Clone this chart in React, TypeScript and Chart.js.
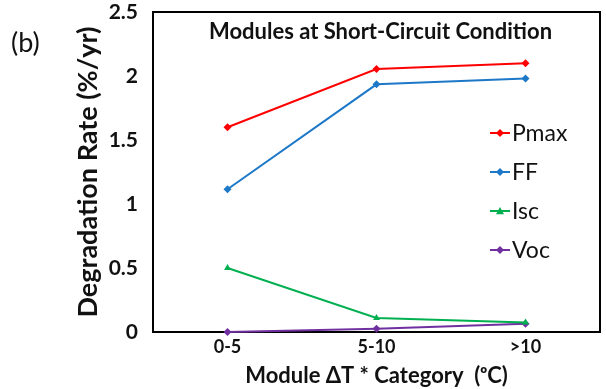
import React, { useEffect, useRef } from "react";
import { Chart, registerables } from "chart.js";

Chart.register(...registerables);

const categories = ["0-5", "5-10", ">10"];
const pmax = [1.6, 2.055, 2.1];
const ff = [1.115, 1.935, 1.98];
const isc = [0.5, 0.11, 0.075];
const voc = [0.0, 0.025, 0.065];
const yTicks = [0, 0.5, 1, 1.5, 2, 2.5];
const seriesNames = ["Pmax", "FF", "Isc", "Voc"];
const seriesColors = ["#FF0000", "#1E78C8", "#00B050", "#7030A0"];
const seriesMarkers = ["rectRot", "rectRot", "triangle", "rectRot"];
const chartTitle = "Modules at Short-Circuit Condition";
const panelLabel = "(b)";
const xTitle = "Module ΔT * Category  (ᵒC)";
const yTitle = "Degradation Rate (%/yr)";

const FONT = "Lato, 'Open Sans', sans-serif";
const TEXT = "#111111";

function drawMarker(ctx: CanvasRenderingContext2D, kind: string, x: number, y: number, r: number, color: string) {
  ctx.fillStyle = color;
  ctx.beginPath();
  if (kind === "triangle") {
    ctx.moveTo(x, y - r);
    ctx.lineTo(x + r, y + r * 0.8);
    ctx.lineTo(x - r, y + r * 0.8);
  } else {
    ctx.moveTo(x, y - r);
    ctx.lineTo(x + r, y);
    ctx.lineTo(x, y + r);
    ctx.lineTo(x - r, y);
  }
  ctx.closePath();
  ctx.fill();
}

const overlayPlugin = {
  id: "overlayPlugin",
  beforeDatasetsDraw(chart: any) {
    const { ctx, chartArea: a } = chart;
    ctx.save();
    ctx.strokeStyle = "#000";
    ctx.lineWidth = 2;
    ctx.strokeRect(a.left, a.top, a.right - a.left, a.bottom - a.top);
    ctx.restore();
  },
  afterDraw(chart: any) {
    const { ctx, chartArea: a } = chart;
    ctx.save();
    ctx.fillStyle = TEXT;
    ctx.textBaseline = "middle";
    ctx.textAlign = "center";
    ctx.font = `bold 22px ${FONT}`;
    ctx.fillText(chartTitle, (a.left + a.right) / 2 + 4, a.top + 20);
    ctx.textAlign = "left";
    ctx.font = `27px ${FONT}`;
    ctx.fillText(panelLabel, 11, 43);
    // legend
    const lx = a.right - 110;
    chart.data.datasets.forEach((ds: any, i: number) => {
      const y = a.top + 121 + i * 39;
      ctx.strokeStyle = ds.borderColor;
      ctx.lineWidth = 2;
      ctx.beginPath();
      ctx.moveTo(lx, y);
      ctx.lineTo(lx + 20, y);
      ctx.stroke();
      drawMarker(ctx, seriesMarkers[i], lx + 10, y, 4, ds.borderColor);
      ctx.fillStyle = TEXT;
      ctx.font = `23px ${FONT}`;
      ctx.textAlign = "left";
      ctx.fillText(ds.label, lx + 22, y + 1);
    });
    ctx.restore();
  },
};

export default function App() {
  const ref = useRef<HTMLCanvasElement | null>(null);
  useEffect(() => {
    if (!ref.current) return;
    const values = [pmax, ff, isc, voc];
    const chart = new Chart(ref.current, {
      type: "line",
      data: {
        labels: categories,
        datasets: seriesNames.map((name, i) => ({
          label: name,
          data: values[i],
          borderColor: seriesColors[i],
          backgroundColor: seriesColors[i],
          borderWidth: 2,
          pointStyle: seriesMarkers[i] as any,
          pointRadius: 4,
          pointBorderWidth: 0,
          tension: 0,
          fill: false,
          clip: false as any,
        })),
      },
      options: {
        animation: false,
        responsive: false,
        maintainAspectRatio: false,
        layout: { padding: { top: 12, right: 6, left: 0, bottom: 0 } },
        plugins: {
          legend: { display: false },
          tooltip: { enabled: false },
          title: { display: false },
        },
        scales: {
          x: {
            type: "category",
            offset: true,
            grid: { display: false, drawTicks: false },
            border: { display: false },
            ticks: {
              font: { family: FONT, size: 18, weight: "bold" },
              color: TEXT,
              padding: 4,
            },
            title: {
              display: true,
              text: xTitle,
              font: { family: FONT, size: 22, weight: "bold" },
              color: TEXT,
              padding: { top: 0, bottom: 0 },
            },
            afterFit(scale: any) {
              scale.height = 57;
              scale.paddingLeft = 0;
              scale.paddingRight = 0;
            },
          },
          y: {
            min: 0,
            max: 2.5,
            grid: { display: false, drawTicks: false },
            border: { display: false },
            afterBuildTicks(scale: any) {
              scale.ticks = yTicks.map((v) => ({ value: v }));
            },
            ticks: {
              font: { family: FONT, size: 21, weight: "bold" },
              color: TEXT,
              padding: 15,
              callback: (v: any) => String(v),
            },
            title: {
              display: true,
              text: yTitle,
              font: { family: FONT, size: 27, weight: "bold" },
              color: TEXT,
              padding: { top: 72, bottom: 0 },
            },
            afterFit(scale: any) {
              scale.width = 153;
              scale.paddingTop = 0;
              scale.paddingBottom = 0;
            },
          },
        },
      },
      plugins: [overlayPlugin],
    });
    return () => chart.destroy();
  }, []);
  return (
    <div style={{ position: "absolute", left: 0, top: 0, width: 606, height: 389, background: "#fff" }}>
      <canvas ref={ref} width={606} height={389} style={{ width: 606, height: 389 }} />
    </div>
  );
}
